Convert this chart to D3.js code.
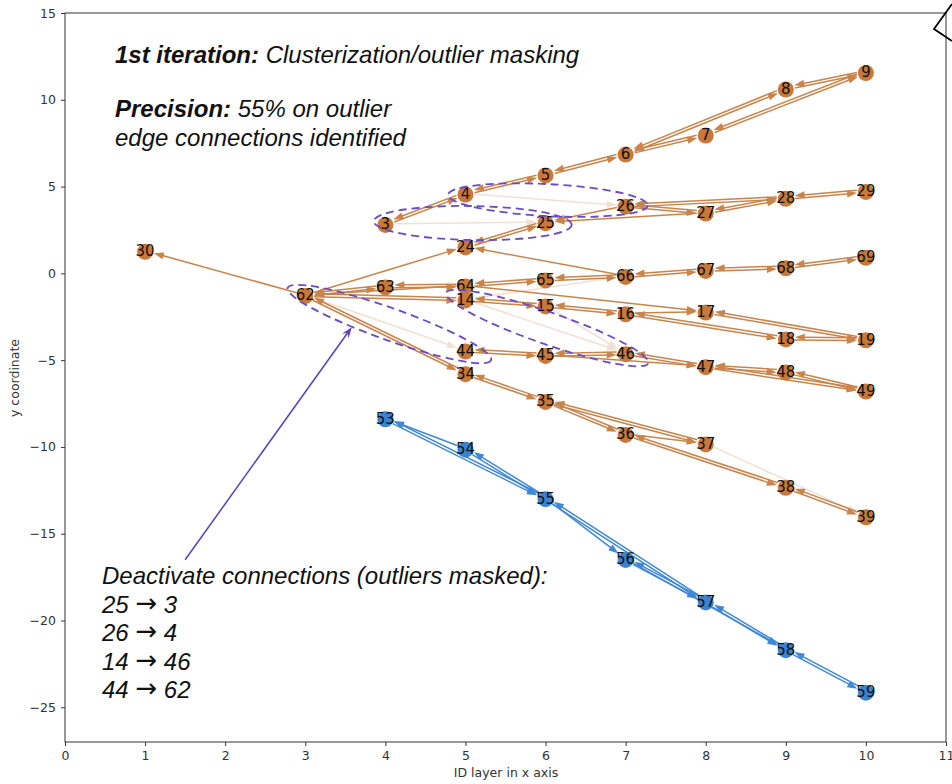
<!DOCTYPE html>
<html>
<head>
<meta charset="utf-8">
<script src="https://cdn.jsdelivr.net/npm/d3@7"></script>
<style>
  html, body { margin: 0; padding: 0; background: #fff; }
  svg { display: block; }
</style>
</head>
<body>
<svg id="chart" width="952" height="784"></svg>
<script>
// ---- node positions (layer on x axis, y coordinate) ----
const nodeIds    = [30, 3, 4, 5, 6, 7, 8, 9, 24, 25, 26, 27, 28, 29,
                    62, 63, 64, 65, 66, 67, 68, 69, 14, 15, 16, 17, 18, 19,
                    44, 45, 46, 47, 48, 49, 34, 35, 36, 37, 38, 39,
                    53, 54, 55, 56, 57, 58, 59];
const nodeLayer  = [1, 4, 5, 6, 7, 8, 9, 10, 5, 6, 7, 8, 9, 10,
                    3, 4, 5, 6, 7, 8, 9, 10, 5, 6, 7, 8, 9, 10,
                    5, 6, 7, 8, 9, 10, 5, 6, 7, 8, 9, 10,
                    4, 5, 6, 7, 8, 9, 10];
const nodeYcoord = [1.3, 2.85, 4.6, 5.7, 6.9, 8.0, 10.65, 11.6, 1.55, 2.95, 3.9, 3.5, 4.35, 4.75,
                    -1.25, -0.75, -0.7, -0.35, -0.15, 0.2, 0.35, 0.95, -1.5, -1.85, -2.3, -2.2, -3.75, -3.8,
                    -4.45, -4.7, -4.6, -5.35, -5.65, -6.75, -5.75, -7.35, -9.25, -9.8, -12.3, -14.0,
                    -8.35, -10.1, -12.95, -16.45, -18.9, -21.65, -24.1];
const blueTrack  = [53, 54, 55, 56, 57, 58, 59];

// ---- directed edges ----
const orangeEdges = [
  [3,4],[4,3],[4,5],[5,4],[5,6],[6,5],[6,7],[7,6],[6,8],[8,6],[8,9],[9,8],[7,9],[9,7],
  [25,24],[24,25],[26,25],[27,25],[26,27],[27,26],[26,28],[28,26],[27,28],[28,27],[28,29],[29,28],
  [62,30],[62,63],[63,62],[62,24],[63,64],[64,63],[64,62],[62,14],[14,62],[62,34],[34,62],
  [64,65],[65,64],[65,66],[66,65],[66,67],[67,66],[67,68],[68,67],[68,69],[69,68],[66,24],[64,17],
  [14,15],[15,14],[15,16],[16,15],[16,17],[17,19],[19,17],[16,18],[18,16],[18,19],[19,18],
  [44,45],[45,44],[45,46],[46,45],[46,47],[47,46],[45,47],[47,48],[48,47],[47,49],[49,47],[48,49],[49,48],
  [34,35],[35,34],[35,36],[36,35],[35,37],[37,35],[36,38],[38,36],[38,39],[39,38],[36,37]
];
const blueEdges = [
  [53,55],[55,53],[54,53],[54,55],[55,54],[55,56],[57,55],[55,57],[56,57],[57,56],[56,58],
  [57,58],[58,57],[58,59],[59,58]
];
// masked (deactivated) connections, drawn faint
const maskedEdges = [[3,25],[4,26],[14,46],[62,44],[14,66],[37,39],[15,46]];

// ---- annotation text ----
const titleBold = "1st iteration:";
const titleRest = " Clusterization/outlier masking";
const precBold  = "Precision:";
const precRest  = " 55% on outlier";
const precLine2 = "edge connections identified";
const maskHeader = "Deactivate connections (outliers masked):";
const maskFrom   = ["25", "26", "14", "44"];
const maskTo     = ["3", "4", "46", "62"];

// ---- cluster ellipses: centre (data units), radii (px), tilt (deg) ----
const ellipseCx    = [6.03, 5.09, 4.05, 6.02];
const ellipseCy    = [4.22, 2.9, -2.92, -3.15];
const ellipseRx    = [100, 99, 108, 107];
const ellipseRy    = [16, 17, 16, 16];
const ellipseTilt  = [3, 1, 19.6, 19.2];

const xTicks = [0,1,2,3,4,5,6,7,8,9,10,11];
const yTicks = [-25,-20,-15,-10,-5,0,5,10,15];

// ---- layout ----
const svg = d3.select("#chart");
const x = d3.scaleLinear().domain([0, 11]).range([65, 946]);
const y = d3.scaleLinear().domain([-27, 15]).range([742, 13]);

const ORANGE_EDGE = "#c9844c", ORANGE_NODE = "#c9783a";
const BLUE_EDGE = "#4088d6", BLUE_NODE = "#3c82d2";
const FAINT = "#f1e0d3";

const pos = {};
nodeIds.forEach((id, i) => { pos[id] = { px: x(nodeLayer[i]), py: y(nodeYcoord[i]) }; });

// axes
const fmt = d => d < 0 ? "\u2212" + Math.abs(d) : String(d);
const xAxis = svg.append("g").attr("transform", "translate(0,742)")
  .call(d3.axisBottom(x).tickValues(xTicks).tickFormat(fmt).tickSize(4).tickPadding(5));
const yAxis = svg.append("g").attr("transform", "translate(65,0)")
  .call(d3.axisLeft(y).tickValues(yTicks).tickFormat(fmt).tickSize(4).tickPadding(5));
[xAxis, yAxis].forEach(g => {
  g.select(".domain").remove();
  g.selectAll("line").attr("stroke", "#333");
  g.selectAll("text").attr("fill", "#333").style("font-family", "DejaVu Sans").style("font-size", "12.5px");
});
// frame
svg.append("rect").attr("x", 65).attr("y", 13).attr("width", 881).attr("height", 729)
  .attr("fill", "none").attr("stroke", "#333").attr("stroke-width", 1);

svg.append("text").attr("x", 506).attr("y", 777).attr("text-anchor", "middle")
  .style("font-family", "DejaVu Sans").style("font-size", "12.5px").attr("fill", "#333")
  .text("ID layer in x axis");
svg.append("text").attr("transform", "translate(19,378) rotate(-90)").attr("text-anchor", "middle")
  .style("font-family", "DejaVu Sans").style("font-size", "12.5px").attr("fill", "#333")
  .text("y coordinate");

// edges with filled arrowheads
const edgeLayer = svg.append("g");
function drawEdges(list, color, width) {
  const keys = new Set(list.map(e => e[0] + "-" + e[1]));
  list.forEach(([s, t]) => {
    const a = pos[s], b = pos[t];
    const dx = b.px - a.px, dy = b.py - a.py;
    const len = Math.hypot(dx, dy);
    const ux = dx / len, uy = dy / len;
    const nx = -uy, ny = ux;
    const off = keys.has(t + "-" + s) ? 1.4 : 0;
    const sx = a.px + ux * 9 + nx * off, sy = a.py + uy * 9 + ny * off;
    const tx = b.px - ux * 9 + nx * off, ty = b.py - uy * 9 + ny * off;
    const hl = 10, hw = 3.6;
    edgeLayer.append("line")
      .attr("x1", sx).attr("y1", sy).attr("x2", tx - ux * hl * 0.8).attr("y2", ty - uy * hl * 0.8)
      .attr("stroke", color).attr("stroke-width", width);
    edgeLayer.append("path")
      .attr("d", `M${tx},${ty}L${tx - ux * hl + nx * hw},${ty - uy * hl + ny * hw}L${tx - ux * hl - nx * hw},${ty - uy * hl - ny * hw}Z`)
      .attr("fill", color);
  });
}
drawEdges(maskedEdges, FAINT, 1.5);
drawEdges(orangeEdges, ORANGE_EDGE, 1.5);
drawEdges(blueEdges, BLUE_EDGE, 1.5);

// nodes and labels
const nodeG = svg.append("g");
nodeIds.forEach(id => {
  const blue = blueTrack.includes(id);
  nodeG.append("circle").attr("cx", pos[id].px).attr("cy", pos[id].py + 1).attr("r", 8)
    .attr("fill", blue ? BLUE_NODE : ORANGE_NODE);
});
nodeIds.forEach(id => {
  nodeG.append("text").attr("x", pos[id].px).attr("y", pos[id].py)
    .attr("text-anchor", "middle").attr("dy", "0.36em")
    .style("font-family", "DejaVu Sans").style("font-size", "15px").attr("fill", "#111")
    .text(id);
});

// dashed cluster ellipses
ellipseCx.forEach((cx, i) => {
  svg.append("ellipse")
    .attr("transform", `translate(${x(cx)},${y(ellipseCy[i])}) rotate(${ellipseTilt[i]})`)
    .attr("rx", ellipseRx[i]).attr("ry", ellipseRy[i])
    .attr("fill", "none").attr("stroke", "#6a4cc6").attr("stroke-width", 1.8)
    .attr("stroke-dasharray", "8,5");
});

// pointer to the masked region
const ax0 = x(1.5), ay0 = y(-16.5), ax1 = x(3.58), ay1 = y(-3.1);
{
  const dx = ax1 - ax0, dy = ay1 - ay0, L = Math.hypot(dx, dy);
  const ux = dx / L, uy = dy / L, nx = -uy, ny = ux;
  svg.append("line").attr("x1", ax0).attr("y1", ay0).attr("x2", ax1 - ux * 6).attr("y2", ay1 - uy * 6)
    .attr("stroke", "#5a3fbf").attr("stroke-width", 1.5);
  svg.append("path")
    .attr("d", `M${ax1},${ay1}L${ax1 - ux * 11 + nx * 4},${ay1 - uy * 11 + ny * 4}L${ax1 - ux * 7},${ay1 - uy * 7}L${ax1 - ux * 11 - nx * 4},${ay1 - uy * 11 - ny * 4}Z`)
    .attr("fill", "#5a3fbf");
}

// text annotations
const FONT = "Liberation Sans, Arial, sans-serif";
function textLine(xp, yp) {
  return svg.append("text").attr("x", xp).attr("y", yp)
    .style("font-family", FONT).style("font-size", "24px").style("font-style", "italic").attr("fill", "#111");
}
function richLine(xp, yp, bold, rest) {
  const t = textLine(xp, yp);
  if (bold) t.append("tspan").style("font-weight", "bold").text(bold);
  t.append("tspan").text(rest);
}
richLine(115, 63, titleBold, titleRest);
richLine(115, 117, precBold, precRest);
richLine(115, 146, null, precLine2);
richLine(102, 584, null, maskHeader);
maskFrom.forEach((s, i) => {
  const t = textLine(102, 613 + i * 28.4);
  t.append("tspan").text(s + " ");
  t.append("tspan").style("font-family", "DejaVu Sans").style("font-style", "normal")
    .style("font-size", "26px").attr("dy", "-1").text("\u2192");
  t.append("tspan").attr("dy", "1").text(" " + maskTo[i]);
});

// callout corner at the top-right edge
svg.append("path").attr("d", "M952,4L934,29L952,41").attr("fill", "none")
  .attr("stroke", "#000").attr("stroke-width", 1.8);
</script>
</body>
</html>
